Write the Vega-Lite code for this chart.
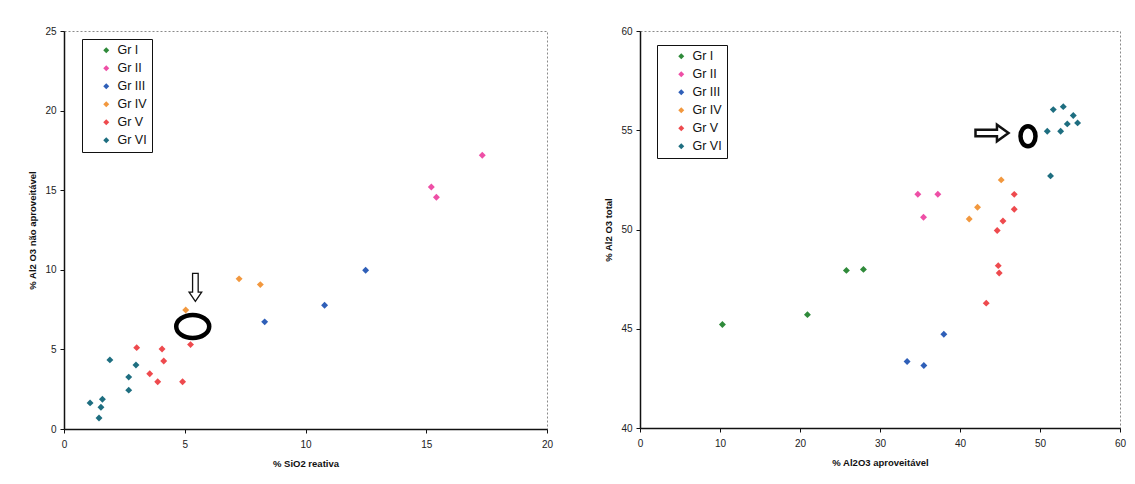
{
  "$schema": "https://vega.github.io/schema/vega-lite/v6.json",
  "background": "white",
  "padding": {"left": 27, "top": 25, "right": 5, "bottom": 5},
  "bounds": "flush",
  "spacing": 93,
  "datasets": {
    "pts": [
      {"chart": "A", "grupo": "Gr II", "x": 17.32, "y": 17.2},
      {"chart": "A", "grupo": "Gr II", "x": 15.21, "y": 15.2},
      {"chart": "A", "grupo": "Gr II", "x": 15.42, "y": 14.56},
      {"chart": "A", "grupo": "Gr III", "x": 12.49, "y": 9.97},
      {"chart": "A", "grupo": "Gr III", "x": 10.79, "y": 7.77},
      {"chart": "A", "grupo": "Gr III", "x": 8.31, "y": 6.73},
      {"chart": "A", "grupo": "Gr IV", "x": 7.25, "y": 9.43},
      {"chart": "A", "grupo": "Gr IV", "x": 8.13, "y": 9.07},
      {"chart": "A", "grupo": "Gr IV", "x": 5.04, "y": 7.47},
      {"chart": "A", "grupo": "Gr V", "x": 5.24, "y": 5.3},
      {"chart": "A", "grupo": "Gr V", "x": 3.01, "y": 5.11},
      {"chart": "A", "grupo": "Gr V", "x": 4.06, "y": 5.03},
      {"chart": "A", "grupo": "Gr V", "x": 4.13, "y": 4.27},
      {"chart": "A", "grupo": "Gr V", "x": 3.55, "y": 3.47},
      {"chart": "A", "grupo": "Gr V", "x": 3.88, "y": 2.97},
      {"chart": "A", "grupo": "Gr V", "x": 4.91, "y": 2.97},
      {"chart": "A", "grupo": "Gr VI", "x": 1.9, "y": 4.34},
      {"chart": "A", "grupo": "Gr VI", "x": 2.98, "y": 4.02},
      {"chart": "A", "grupo": "Gr VI", "x": 2.68, "y": 3.26},
      {"chart": "A", "grupo": "Gr VI", "x": 2.68, "y": 2.44},
      {"chart": "A", "grupo": "Gr VI", "x": 1.59, "y": 1.87},
      {"chart": "A", "grupo": "Gr VI", "x": 1.08, "y": 1.64},
      {"chart": "A", "grupo": "Gr VI", "x": 1.53, "y": 1.37},
      {"chart": "A", "grupo": "Gr VI", "x": 1.45, "y": 0.69},
      {"chart": "B", "grupo": "Gr I", "x": 10.3, "y": 45.21},
      {"chart": "B", "grupo": "Gr I", "x": 20.93, "y": 45.71},
      {"chart": "B", "grupo": "Gr I", "x": 25.8, "y": 47.94},
      {"chart": "B", "grupo": "Gr I", "x": 27.93, "y": 47.99},
      {"chart": "B", "grupo": "Gr II", "x": 34.73, "y": 51.78},
      {"chart": "B", "grupo": "Gr II", "x": 37.23, "y": 51.78},
      {"chart": "B", "grupo": "Gr II", "x": 35.44, "y": 50.62},
      {"chart": "B", "grupo": "Gr III", "x": 33.39, "y": 43.35},
      {"chart": "B", "grupo": "Gr III", "x": 35.48, "y": 43.15},
      {"chart": "B", "grupo": "Gr III", "x": 37.98, "y": 44.72},
      {"chart": "B", "grupo": "Gr IV", "x": 45.15, "y": 52.5},
      {"chart": "B", "grupo": "Gr IV", "x": 42.19, "y": 51.12},
      {"chart": "B", "grupo": "Gr IV", "x": 41.15, "y": 50.53},
      {"chart": "B", "grupo": "Gr V", "x": 46.78, "y": 51.77},
      {"chart": "B", "grupo": "Gr V", "x": 46.78, "y": 51.02},
      {"chart": "B", "grupo": "Gr V", "x": 45.37, "y": 50.43},
      {"chart": "B", "grupo": "Gr V", "x": 44.65, "y": 49.95},
      {"chart": "B", "grupo": "Gr V", "x": 44.78, "y": 48.18},
      {"chart": "B", "grupo": "Gr V", "x": 44.9, "y": 47.81},
      {"chart": "B", "grupo": "Gr V", "x": 43.28, "y": 46.29},
      {"chart": "B", "grupo": "Gr VI", "x": 51.32, "y": 52.7},
      {"chart": "B", "grupo": "Gr VI", "x": 50.91, "y": 54.95},
      {"chart": "B", "grupo": "Gr VI", "x": 52.58, "y": 54.95},
      {"chart": "B", "grupo": "Gr VI", "x": 53.41, "y": 55.32},
      {"chart": "B", "grupo": "Gr VI", "x": 54.7, "y": 55.37},
      {"chart": "B", "grupo": "Gr VI", "x": 54.16, "y": 55.74},
      {"chart": "B", "grupo": "Gr VI", "x": 51.66, "y": 56.04},
      {"chart": "B", "grupo": "Gr VI", "x": 52.91, "y": 56.19}
    ],
    "arrowA": [{"x": 5.44, "y": 8.9}],
    "ringA": [{"x": 5.33, "y": 6.44}],
    "arrowB": [{"x": 44.0, "y": 54.86}],
    "ringB": [{"x": 48.5, "y": 54.7}]
  },
  "config": {
    "font": "Liberation Sans",
    "view": {"stroke": "#8a8a8a", "strokeDash": [2, 2], "strokeWidth": 1},
    "axis": {
      "grid": false,
      "domainColor": "#111",
      "domainWidth": 1.5,
      "tickColor": "#111",
      "tickSize": 4,
      "labelFont": "Liberation Sans",
      "labelFontSize": 10,
      "labelColor": "#222",
      "titleFont": "Liberation Sans",
      "titleFontSize": 9.5,
      "titleFontWeight": "bold",
      "titleColor": "#111"
    },
    "axisX": {"labelPadding": 6, "titlePadding": 9, "labelFlush": false},
    "axisY": {"labelPadding": 4, "titlePadding": 7},
    "legend": {
      "orient": "none",
      "title": null,
      "strokeColor": "#111",
      "fillColor": "white",
      "padding": 5,
      "symbolOffset": 13,
      "symbolType": "diamond",
      "symbolSize": 36,
      "symbolStrokeWidth": 0,
      "labelFont": "Liberation Sans",
      "labelFontSize": 12.5,
      "labelColor": "#111",
      "rowPadding": 5,
      "labelOffset": 5
    }
  },
  "resolve": {"legend": {"color": "independent"}},
  "hconcat": [
    {
      "width": 483,
      "height": 398,
      "layer": [
        {
          "data": {"name": "pts"},
          "transform": [{"filter": "datum.chart === 'A'"}],
          "mark": {"type": "point", "shape": "diamond", "filled": true, "size": 48, "opacity": 1},
          "encoding": {
            "x": {"field": "x", "type": "quantitative", "title": "% SiO2 reativa", "scale": {"domain": [0, 20], "nice": false}, "axis": {"values": [0, 5, 10, 15, 20]}},
            "y": {"field": "y", "type": "quantitative", "title": "% Al2 O3 não aproveitável", "scale": {"domain": [0, 25], "nice": false}, "axis": {"values": [0, 5, 10, 15, 20, 25]}},
            "color": {
              "field": "grupo", "type": "nominal",
              "scale": {"domain": ["Gr I", "Gr II", "Gr III", "Gr IV", "Gr V", "Gr VI"], "range": ["#2f8a3a", "#ee4fa6", "#2f5fb8", "#f2983e", "#ee4a4e", "#1e6e80"]},
              "legend": {"legendX": 18, "legendY": 8}
            }
          }
        },
        {
          "data": {"name": "arrowA"},
          "mark": {"type": "point", "shape": "M -0.2 -1 L 0.2 -1 L 0.2 0.35 L 0.45 0.35 L 0 1 L -0.45 0.35 L -0.2 0.35 Z", "size": 784, "filled": true, "fill": "white", "stroke": "#111", "strokeWidth": 1.3, "opacity": 1},
          "encoding": {"x": {"field": "x", "type": "quantitative"}, "y": {"field": "y", "type": "quantitative"}}
        },
        {
          "data": {"name": "ringA"},
          "mark": {"type": "point", "shape": "M -1 0 A 1 0.7 0 1 0 1 0 A 1 0.7 0 1 0 -1 0 Z", "size": 1089, "filled": false, "stroke": "#000", "strokeWidth": 4.5, "opacity": 1},
          "encoding": {"x": {"field": "x", "type": "quantitative"}, "y": {"field": "y", "type": "quantitative"}}
        }
      ]
    },
    {
      "width": 480,
      "height": 397,
      "layer": [
        {
          "data": {"name": "pts"},
          "transform": [{"filter": "datum.chart === 'B'"}],
          "mark": {"type": "point", "shape": "diamond", "filled": true, "size": 48, "opacity": 1},
          "encoding": {
            "x": {"field": "x", "type": "quantitative", "title": "% Al2O3 aproveitável", "scale": {"domain": [0, 60], "nice": false}, "axis": {"values": [0, 10, 20, 30, 40, 50, 60]}},
            "y": {"field": "y", "type": "quantitative", "title": "% Al2 O3 total", "scale": {"domain": [40, 60], "nice": false, "zero": false}, "axis": {"values": [40, 45, 50, 55, 60]}},
            "color": {
              "field": "grupo", "type": "nominal",
              "scale": {"domain": ["Gr I", "Gr II", "Gr III", "Gr IV", "Gr V", "Gr VI"], "range": ["#2f8a3a", "#ee4fa6", "#2f5fb8", "#f2983e", "#ee4a4e", "#1e6e80"]},
              "legend": {"legendX": 17, "legendY": 14}
            }
          }
        },
        {
          "data": {"name": "arrowB"},
          "mark": {"type": "point", "shape": "M -1 -0.2 L 0.3 -0.2 L 0.3 -0.5 L 1 0 L 0.3 0.5 L 0.3 0.2 L -1 0.2 Z", "size": 1089, "filled": true, "fill": "white", "stroke": "#111", "strokeWidth": 2.5, "opacity": 1},
          "encoding": {"x": {"field": "x", "type": "quantitative"}, "y": {"field": "y", "type": "quantitative"}}
        },
        {
          "data": {"name": "ringB"},
          "mark": {"type": "point", "shape": "M -0.75 0 A 0.75 1 0 1 0 0.75 0 A 0.75 1 0 1 0 -0.75 0 Z", "size": 400, "filled": false, "stroke": "#000", "strokeWidth": 4.5, "opacity": 1},
          "encoding": {"x": {"field": "x", "type": "quantitative"}, "y": {"field": "y", "type": "quantitative"}}
        }
      ]
    }
  ]
}
